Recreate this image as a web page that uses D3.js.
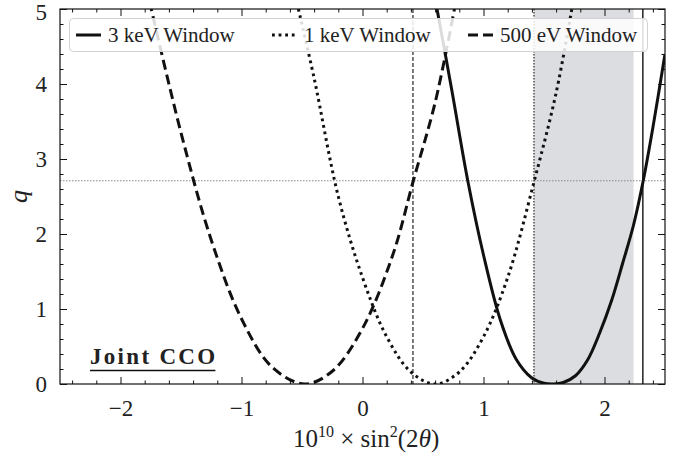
<!DOCTYPE html>
<html>
<head>
<meta charset="utf-8">
<script src="https://cdn.jsdelivr.net/npm/d3@7"></script>
<style>
  html, body { margin: 0; padding: 0; background: #fff; }
  svg { display: block; }
  text { font-family: "Liberation Serif", "DejaVu Serif", serif; fill: #222; }
</style>
</head>
<body>
<div id="chart"></div>
<script>
// Test statistic q versus mixing strength for three energy windows
const windowNames = ["3 keV Window", "1 keV Window", "500 eV Window"];

const keV3X = [0.61, 0.74, 0.87, 1.00, 1.14, 1.27, 1.40, 1.50, 1.58, 1.66, 1.76, 1.86, 1.96, 2.06, 2.15, 2.24, 2.32, 2.40, 2.50];
const keV3Q = [5.05, 3.90, 2.71, 1.72, 0.85, 0.33, 0.08, 0.01, 0.00, 0.02, 0.11, 0.32, 0.68, 1.12, 1.61, 2.12, 2.71, 3.42, 4.40];

const keV1X = [-0.53, -0.40, -0.20, 0.00, 0.20, 0.40, 0.60, 0.80, 1.00, 1.20, 1.42, 1.60, 1.73];
const keV1Q = [5.00, 4.08, 2.50, 1.42, 0.63, 0.16, 0.00, 0.16, 0.63, 1.42, 2.71, 3.88, 5.00];

const eV500X = [-1.76, -1.50, -1.25, -1.00, -0.75, -0.48, -0.25, 0.00, 0.25, 0.42, 0.60, 0.76];
const eV500Q = [5.10, 3.35, 1.92, 0.87, 0.23, 0.00, 0.17, 0.74, 1.72, 2.71, 3.75, 5.00];

// Threshold q and the upper limits it sets for each window
const qThreshold = 2.71;
const limit500eV = 0.417;
const limit1keV = 1.417;
const limit3keV = 2.317;
const bandRange = [1.417, 2.24];

const xTicks = [-2, -1, 0, 1, 2];
const yTicks = [0, 1, 2, 3, 4, 5];

const W = 694, H = 460;
const plot = { left: 60, right: 665, top: 9, bottom: 384 };

const svg = d3.select("#chart").append("svg")
  .attr("width", W).attr("height", H);

const x = d3.scaleLinear().domain([-2.5, 2.5]).range([plot.left, plot.right]);
const y = d3.scaleLinear().domain([0, 5]).range([plot.bottom, plot.top]);

svg.append("defs").append("clipPath").attr("id", "plotclip")
  .append("rect")
  .attr("x", plot.left).attr("y", plot.top)
  .attr("width", plot.right - plot.left).attr("height", plot.bottom - plot.top);

const g = svg.append("g").attr("clip-path", "url(#plotclip)");

// shaded allowed band
g.append("rect")
  .attr("x", x(bandRange[0])).attr("y", plot.top)
  .attr("width", x(bandRange[1]) - x(bandRange[0]))
  .attr("height", plot.bottom - plot.top)
  .attr("fill", "#dcdde0");

// threshold line
g.append("line")
  .attr("x1", plot.left).attr("x2", plot.right)
  .attr("y1", y(qThreshold)).attr("y2", y(qThreshold))
  .attr("stroke", "#888").attr("stroke-width", 1.1)
  .attr("stroke-dasharray", "1.5,1.5");

// vertical limit lines
const vlines = [
  { v: limit500eV, dash: "4,2", w: 1.1 },
  { v: limit1keV, dash: "1.5,1.5", w: 1.1 },
  { v: limit3keV, dash: null, w: 1.4 }
];
vlines.forEach(d => {
  g.append("line")
    .attr("x1", x(d.v)).attr("x2", x(d.v))
    .attr("y1", plot.top).attr("y2", plot.bottom)
    .attr("stroke", "#111").attr("stroke-width", d.w)
    .attr("stroke-dasharray", d.dash);
});

const series = [
  { name: windowNames[0], xs: keV3X, qs: keV3Q, dash: null },
  { name: windowNames[1], xs: keV1X, qs: keV1Q, dash: "2.8,3.8" },
  { name: windowNames[2], xs: eV500X, qs: eV500Q, dash: "10,5" }
];

const line = d3.line()
  .x(d => x(d[0])).y(d => y(d[1]))
  .curve(d3.curveCatmullRom.alpha(0.5));

series.forEach(s => {
  g.append("path")
    .datum(d3.zip(s.xs, s.qs))
    .attr("d", line)
    .attr("fill", "none")
    .attr("stroke", "#111")
    .attr("stroke-width", 3)
    .attr("stroke-dasharray", s.dash);
});

// legend
const leg = svg.append("g");
leg.append("rect")
  .attr("x", 69.5).attr("y", 18.5).attr("width", 578).attr("height", 33)
  .attr("rx", 4).attr("ry", 4)
  .attr("fill", "#fff").attr("fill-opacity", 0.85)
  .attr("stroke", "#d2d2d2").attr("stroke-width", 1);
const legX = [76, 272, 468];
series.forEach((s, i) => {
  leg.append("line")
    .attr("x1", legX[i]).attr("x2", legX[i] + 25)
    .attr("y1", 35).attr("y2", 35)
    .attr("stroke", "#111").attr("stroke-width", 3)
    .attr("stroke-dasharray", s.dash);
  leg.append("text")
    .attr("x", legX[i] + 32).attr("y", 42)
    .attr("font-size", 21)
    .text(s.name);
});

// frame
svg.append("rect")
  .attr("x", plot.left).attr("y", plot.top)
  .attr("width", plot.right - plot.left).attr("height", plot.bottom - plot.top)
  .attr("fill", "none").attr("stroke", "#111").attr("stroke-width", 1.2);

// inward ticks on all four sides
const xMinor = d3.range(-2.4, 2.5, 0.2).map(v => +v.toFixed(1)).filter(v => !xTicks.includes(v));
const yMinor = d3.range(0.2, 5, 0.2).map(v => +v.toFixed(1)).filter(v => !yTicks.includes(v));

const bottomAxis = d3.axisBottom(x).tickValues(xTicks).tickSizeInner(-7).tickSizeOuter(0)
  .tickFormat(d => d < 0 ? "\u2212" + Math.abs(d) : String(d)).tickPadding(16);
const topAxis = d3.axisTop(x).tickValues(xTicks).tickSizeInner(-7).tickSizeOuter(0).tickFormat("");
const leftAxis = d3.axisLeft(y).tickValues(yTicks).tickSizeInner(-7).tickSizeOuter(0)
  .tickFormat(d => String(d)).tickPadding(13);
const rightAxis = d3.axisRight(y).tickValues(yTicks).tickSizeInner(-7).tickSizeOuter(0).tickFormat("");

const axB = svg.append("g").attr("transform", `translate(0,${plot.bottom})`).call(bottomAxis);
svg.append("g").attr("transform", `translate(0,${plot.bottom})`)
  .call(d3.axisBottom(x).tickValues(xMinor).tickSizeInner(-3.5).tickSizeOuter(0).tickFormat(""));
svg.append("g").attr("transform", `translate(0,${plot.top})`).call(topAxis);
svg.append("g").attr("transform", `translate(0,${plot.top})`)
  .call(d3.axisTop(x).tickValues(xMinor).tickSizeInner(-3.5).tickSizeOuter(0).tickFormat(""));
const axL = svg.append("g").attr("transform", `translate(${plot.left},0)`).call(leftAxis);
svg.append("g").attr("transform", `translate(${plot.left},0)`)
  .call(d3.axisLeft(y).tickValues(yMinor).tickSizeInner(-3.5).tickSizeOuter(0).tickFormat(""));
svg.append("g").attr("transform", `translate(${plot.right},0)`).call(rightAxis);
svg.append("g").attr("transform", `translate(${plot.right},0)`)
  .call(d3.axisRight(y).tickValues(yMinor).tickSizeInner(-3.5).tickSizeOuter(0).tickFormat(""));

svg.selectAll(".domain").remove();
svg.selectAll(".tick line").attr("stroke", "#111").attr("stroke-width", 1);
svg.selectAll(".tick text").attr("font-family", "Liberation Serif, serif")
  .attr("fill", "#222").attr("font-size", 23);
axB.selectAll(".tick text").attr("dy", "0.71em");
// the top label sits at the frame edge; keep it inside the page
axL.selectAll(".tick text").attr("dy", d => d === 5 ? "0.46em" : "0.34em");

// axis titles
const xt = svg.append("text")
  .attr("x", x(0.03)).attr("y", 447)
  .attr("text-anchor", "middle").attr("font-size", 25);
xt.append("tspan").text("10");
xt.append("tspan").attr("dy", -10).attr("font-size", 16).text("10");
xt.append("tspan").attr("dy", 10).text(" \u00d7 sin");
xt.append("tspan").attr("dy", -10).attr("font-size", 16).text("2");
xt.append("tspan").attr("dy", 10).text("(2");
xt.append("tspan").attr("font-style", "italic").text("\u03b8");
xt.append("tspan").text(")");

svg.append("text")
  .attr("transform", `translate(27,${y(2.5)}) rotate(-90)`)
  .attr("text-anchor", "middle")
  .attr("font-size", 26).attr("font-style", "italic")
  .text("q");

// annotation
const ann = svg.append("text")
  .attr("x", 90).attr("y", 364)
  .attr("font-size", 23).attr("font-weight", "bold")
  .attr("letter-spacing", 2.3)
  .text("Joint CCO");
const bb = ann.node().getBBox();
svg.append("line")
  .attr("x1", bb.x).attr("x2", bb.x + bb.width - 2)
  .attr("y1", 370.5).attr("y2", 370.5)
  .attr("stroke", "#111").attr("stroke-width", 1.3);
</script>
</body>
</html>
